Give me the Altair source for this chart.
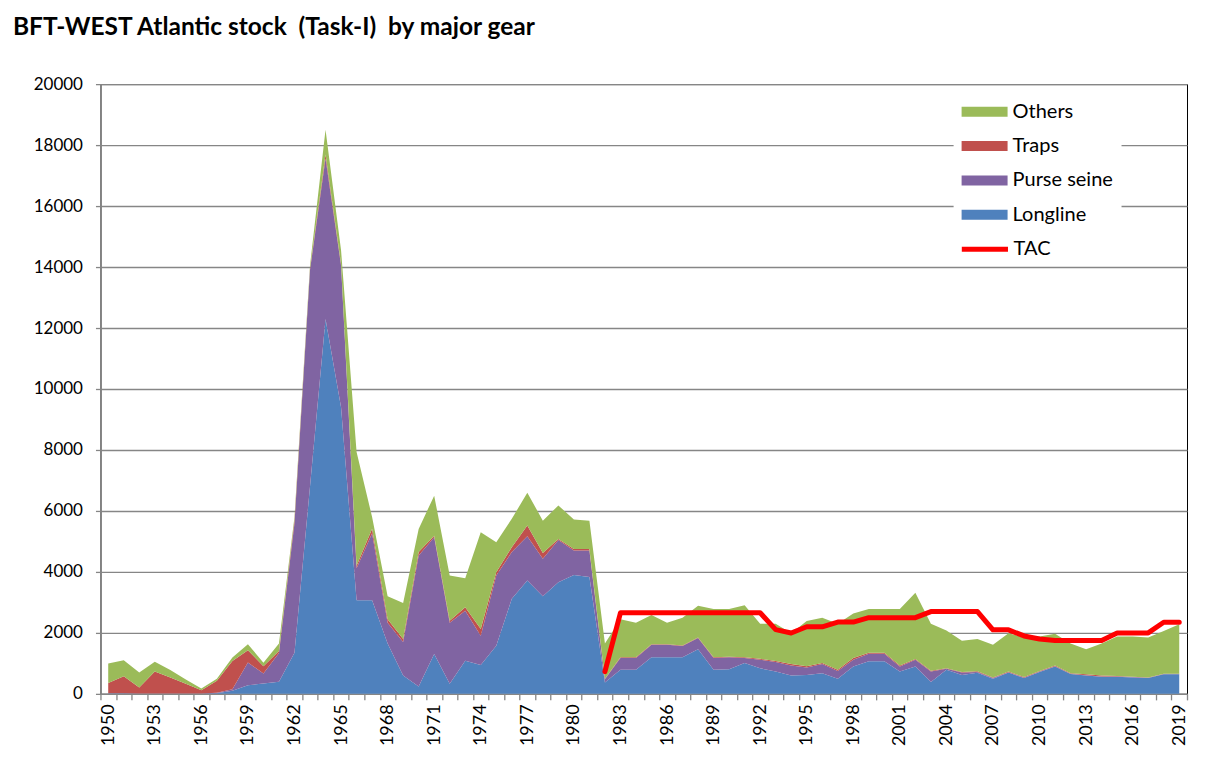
import altair as alt
import pandas as pd

# ---------------- data (t) ----------------
years = list(range(1950, 2020))

longline = [20, 20, 10, 10, 10, 10, 10, 20, 100, 280,
            340, 400, 1350, 6800, 12300, 9400, 3070, 3070, 1650, 600,
            240, 1310, 330, 1090, 950, 1580, 3120, 3720, 3200, 3660,
            3900, 3830, 370, 790, 790, 1200, 1200, 1200, 1460, 790,
            810, 1010, 840, 730, 600, 620, 675, 500, 900, 1070,
            1070, 730, 900, 390, 790, 620, 690, 500, 700, 520,
            720, 900, 650, 600, 560, 560, 540, 520, 640, 640]

purse_seine = [0, 0, 0, 0, 0, 0, 0, 20, 50, 750,
               330, 940, 4250, 7100, 5260, 4650, 1050, 2200, 680, 1100,
               4300, 3830, 2000, 1640, 960, 2300, 1530, 1450, 1230, 1390,
               800, 870, 110, 390, 390, 410, 410, 370, 370, 390,
               390, 170, 280, 315, 330, 245, 305, 250, 220, 245,
               245, 170, 220, 340, 30, 80, 30, 20, 10, 10,
               10, 10, 10, 10, 10, 10, 10, 10, 10, 10]

traps = [340, 560, 200, 720, 530, 320, 110, 390, 930, 400,
         240, 70, 100, 50, 130, 50, 80, 150, 120, 100,
         110, 50, 70, 110, 220, 110, 160, 350, 190, 30,
         50, 50, 20, 20, 20, 20, 20, 20, 20, 20,
         20, 20, 30, 30, 50, 45, 30, 40, 60, 35,
         35, 30, 20, 30, 20, 20, 20, 20, 20, 20,
         20, 20, 20, 30, 30, 20, 10, 10, 10, 10]

others = [640, 520, 490, 320, 240, 140, 60, 70, 110, 200,
          110, 240, 100, 100, 810, 450, 3730, 380, 750, 1180,
          760, 1310, 1480, 950, 3170, 980, 930, 1080, 1060, 1100,
          970, 930, 1150, 1250, 1130, 960, 700, 910, 1040, 1580,
          1560, 1710, 1150, 1225, 1010, 1480, 1490, 1510, 1460, 1430,
          1430, 1850, 2180, 1540, 1240, 1020, 1060, 1070, 1260, 1300,
          1130, 1040, 970, 820, 1050, 1290, 1320, 1310, 1400, 1620]

tac_years = list(range(1982, 2020))
tac = [730,
       2660, 2660, 2660, 2660, 2660, 2660, 2660, 2660, 2660, 2660,
       2106, 1995, 2200, 2200, 2354, 2354, 2500, 2500, 2500, 2500,
       2700, 2700, 2700, 2700, 2100, 2100, 1900, 1800, 1750, 1750,
       1750, 1750, 2000, 2000, 2000, 2350, 2350]

legend_gears = ["Others", "Traps", "Purse seine", "Longline"]
gear_colors = ["#9BBB59", "#C0504D", "#8064A2", "#4F81BD"]
stack_rank = {"Longline": 0, "Purse seine": 1, "Traps": 2, "Others": 3}
y_ticks = list(range(0, 20001, 2000))

# ---------------- tables ----------------
rows = []
for name, vals in [("Longline", longline), ("Purse seine", purse_seine),
                   ("Traps", traps), ("Others", others)]:
    for yr, v in zip(years, vals):
        rows.append({"year": yr, "gear": name, "catch": v, "rank": stack_rank[name]})
area_df = pd.DataFrame(rows)
tac_df = pd.DataFrame({"year": tac_years, "tac": tac, "series": ["TAC"] * len(tac)})

# ---------------- layout ----------------
W, H = 1087, 610
cat_w = W / 70.0
FONT = "Lato"
GRAY = "#868686"

x_scale = alt.Scale(domain=[1949.5, 2019.5], nice=False, zero=False)
y_scale = alt.Scale(domain=[0, 20000], nice=False)

x_axis = alt.Axis(
    values=[1949.5 + i for i in range(71)],
    labelExpr="(datum.value + 0.5) % 3 == 0 ? format(datum.value + 0.5, 'd') : ''",
    labelAngle=-90, labelOffset=cat_w / 2, labelOverlap=False, labelFlush=False,
    labelFont=FONT, labelFontSize=18, labelColor="#000", labelPadding=4,
    title=None, grid=False, tickSize=6, tickColor=GRAY, tickWidth=1.3,
    domainColor=GRAY, domainWidth=1.5,
)
y_axis = alt.Axis(
    values=y_ticks, format="d", title=None,
    labelFont=FONT, labelFontSize=17, labelColor="#000", labelPadding=13,
    grid=True, gridColor=GRAY, gridWidth=1.4,
    tickSize=5, tickColor=GRAY, tickWidth=1.3,
    domainColor=GRAY, domainWidth=1.5,
)

areas = alt.Chart(area_df).mark_area(opacity=1).encode(
    x=alt.X("year:Q", scale=x_scale, axis=x_axis),
    y=alt.Y("catch:Q", stack="zero", scale=y_scale, axis=y_axis),
    fill=alt.Fill(
        "gear:N",
        scale=alt.Scale(domain=legend_gears, range=gear_colors),
        legend=alt.Legend(
            title=None, orient="none", legendX=853.5, legendY=9.7,
            symbolType="M-1,-0.5L3.6,-0.5L3.6,0.5L-1,0.5Z", symbolSize=400,
            symbolStrokeWidth=0, symbolOpacity=1,
            labelFont=FONT, labelFontSize=20, labelColor="#000", labelOffset=31,
            rowPadding=14.3, padding=8, fillColor="white",
        ),
    ),
    order=alt.Order("rank:Q"),
)

tac_line = alt.Chart(tac_df).mark_line(strokeWidth=5, strokeJoin="round", strokeCap="round").encode(
    x=alt.X("year:Q", scale=x_scale, axis=x_axis),
    y=alt.Y("tac:Q", scale=y_scale, axis=y_axis),
    stroke=alt.Stroke(
        "series:N",
        scale=alt.Scale(domain=["TAC"], range=["#FF0000"]),
        legend=alt.Legend(
            title=None, orient="none", legendX=855.5, legendY=149.3,
            symbolType="M-1.4,0L5.2,0", symbolSize=196, symbolStrokeWidth=5,
            labelFont=FONT, labelFontSize=20, labelColor="#000", labelOffset=32,
            padding=6, fillColor="white",
        ),
    ),
)

chart = alt.layer(areas, tac_line).properties(
    width=W, height=H,
    title=alt.TitleParams(
        "BFT-WEST Atlantic stock \u00a0(Task-I) \u00a0by major gear",
        anchor="start", frame="group", orient="top", offset=35, dx=-87.5,
        font=FONT, fontSize=24.5, fontWeight="bold", color="#000",
    ),
    autosize=alt.AutoSizeParams(type="none"),
    padding={"left": 92.5, "top": 76, "right": 15, "bottom": 60},
).configure_view(stroke="#000", strokeWidth=1)

chart.save("out.html", embed_options={"renderer": "svg", "actions": False})
